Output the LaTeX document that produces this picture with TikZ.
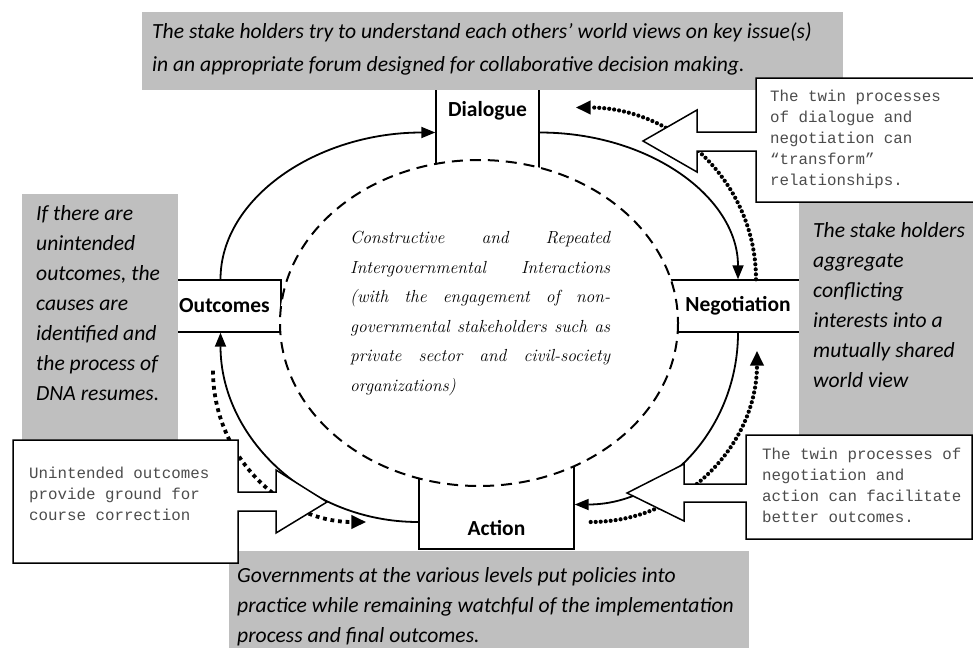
\documentclass[tikz,border=0pt]{standalone}
\usepackage{fontspec}
\usepackage{tikz}
\usetikzlibrary{arrows.meta}
\newfontfamily\notefont{Carlito}
\newfontfamily\calloutfont{Liberation Mono}
\definecolor{notegray}{RGB}{191,191,191}

\begin{document}
\begin{tikzpicture}[x=1pt,y=-1pt,
  stage/.style={draw,line width=1.4pt,inner sep=0pt},
  stagetext/.style={font=\notefont\bfseries\fontsize{21.5}{24}\selectfont},
  loopline/.style={line width=1.8pt,-{Triangle[length=14pt,width=11pt]}},
  beads/.style={line width=4.2pt,line cap=round,dash pattern=on 0pt off 5pt,-{Triangle[length=15pt,width=13pt]}},
  chips/.style={line width=3.8pt,dash pattern=on 3.8pt off 3.8pt,-{Triangle[length=15pt,width=13pt]}},
  note/.style={fill=notegray},
  notetext/.style={anchor=north west,inner sep=0pt,align=left,font=\notefont\itshape\fontsize{21.6}{30}\selectfont},
  callout/.style={draw,fill=white,line width=1.5pt},
  callouttext/.style={anchor=north west,inner sep=0pt,align=left,text=black!70,font=\calloutfont\fontsize{15.8}{21}\selectfont}]
\useasboundingbox (0,0) rectangle (973,648);
% the four stages
\node[stage,minimum width=103pt,minimum height=89pt,
  label={[stagetext,anchor=north,yshift=-11pt]north:Dialogue}] (dialogue) at (487.5,132.5) {};
\node[stage,minimum width=113pt,minimum height=52pt,stagetext] (outcomes) at (224.5,306) {Outcomes};
\node[stage,minimum width=146pt,minimum height=52pt,stagetext] (negotiation) at (738,306) {Negotiation};
\node[stage,minimum width=155pt,minimum height=89pt,
  label={[stagetext,anchor=south,yshift=11pt]south:Action}] (action) at (496.5,504.5) {};
% core of the cycle
\draw[line width=2pt,dash pattern=on 11pt off 7pt,fill=white] (479,323) ellipse [x radius=199,y radius=163];
\node[anchor=north west,inner sep=0pt,text width=260pt,align=justify,
  font=\itshape\fontsize{17.5}{29.5}\selectfont] (core) at (350,231)
  {Constructive and Repeated\linebreak Intergovernmental Interactions\linebreak (with the engagement of non-\linebreak governmental stakeholders such as\linebreak private sector and civil-society\linebreak organizations)};
% cycle
\draw[loopline] ([xshift=-4pt]outcomes.north) .. controls +(0,-81) and +(-119,0) .. (dialogue.west);
\draw[loopline] (dialogue.east) .. controls +(110,0) and +(0,-82) .. (negotiation.north);
\draw[loopline] (negotiation.south) .. controls +(0,95) and +(91,0) .. (action.east);
\draw[loopline] ([yshift=-17.5pt]action.west) .. controls +(-110,0) and +(0,105) .. ([xshift=-4pt]outcomes.south);
% twin processes
\draw[beads] ([xshift=18pt]negotiation.north) .. controls +(0,-96) and +(100,0) .. ([xshift=36pt,yshift=25pt]dialogue.east);
\draw[beads] ([xshift=16pt,yshift=-17.5pt]action.east) .. controls +(92,0) and +(0,95) .. ([xshift=19pt,yshift=-18pt]negotiation.south);
\draw[chips] ([xshift=-11.5pt,yshift=-38pt]outcomes.south) .. controls +(0,84) and +(-85,0) .. ([xshift=-52pt,yshift=-17.5pt]action.west);
% notes
\fill[note] (142,12) rectangle (843,90);
\node[notetext,font=\notefont\itshape\fontsize{21.6}{33}\selectfont] (forum) at (152,23)
  {The stake holders try to understand each others’ world views on key issue(s)\\in an appropriate forum designed for collaborative decision making.};
\fill[note] (22,194) rectangle (178,440);
\node[notetext] (remedy) at (36,205)
  {If there are\\unintended\\outcomes, the\\causes are\\identified and\\the process of\\DNA resumes.};
\fill[note] (799,203) rectangle (973,435);
\node[notetext] (consensus) at (813,222)
  {The stake holders\\aggregate\\conflicting\\interests into a\\mutually shared\\world view};
\fill[note] (229,551) rectangle (749,648);
\node[notetext] (practice) at (237,567)
  {Governments at the various levels put policies into\\practice while remaining watchful of the implementation\\process and final outcomes.};
% callouts
\draw[callout] (756,78) -- (976,78) -- (976,202) -- (756,202) -- (756,151) -- (697,151) -- (697,172)
  -- (643,141) -- (697,110) -- (697,132) -- (756,132) -- cycle;
\node[callouttext] (transform) at (770,90)
  {The twin processes\\of dialogue and\\negotiation can\\“transform”\\relationships.};
\draw[callout] (746,435) -- (972,435) -- (972,539) -- (746,539) -- (746,502) -- (684,502) -- (684,521)
  -- (627,493) -- (684,464) -- (684,484) -- (746,484) -- cycle;
\node[callouttext] (facilitate) at (762,448)
  {The twin processes of\\negotiation and\\action can facilitate\\better outcomes.};
\draw[callout] (13,440) -- (238,440) -- (238,492) -- (276,492) -- (276,470) -- (327,502) -- (276,533)
  -- (276,511) -- (238,511) -- (238,563) -- (13,563) -- cycle;
\node[callouttext] (correction) at (29,467)
  {Unintended outcomes\\provide ground for\\course correction};
\end{tikzpicture}
\end{document}
